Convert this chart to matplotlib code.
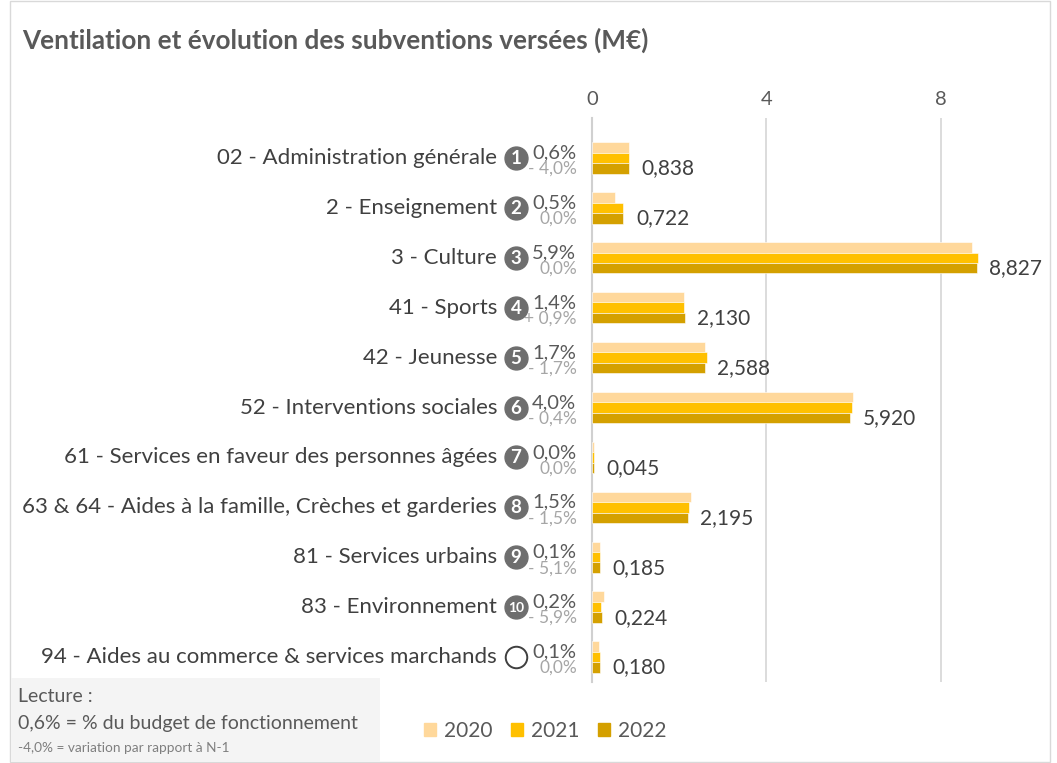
import matplotlib
matplotlib.use("Agg")
import matplotlib.pyplot as plt
import matplotlib.transforms as mtransforms
from matplotlib.patches import Rectangle
import numpy as np

plt.rcParams['font.family'] = ['Lato', 'DejaVu Sans']

title = "Ventilation et évolution des subventions versées (M€)"
categories = ["02 - Administration générale", "2 - Enseignement", "3 - Culture", "41 - Sports",
              "42 - Jeunesse", "52 - Interventions sociales", "61 - Services en faveur des personnes âgées",
              "63 & 64 - Aides à la famille, Crèches et garderies", "81 - Services urbains",
              "83 - Environnement", "94 - Aides au commerce & services marchands"]
years = ["2020", "2021", "2022"]
v2020 = [0.86, 0.535, 8.72, 2.10, 2.60, 5.98, 0.05, 2.28, 0.19, 0.28, 0.16]
v2021 = [0.86, 0.72, 8.85, 2.10, 2.63, 5.96, 0.045, 2.22, 0.19, 0.21, 0.18]
v2022 = [0.838, 0.722, 8.827, 2.130, 2.588, 5.920, 0.045, 2.195, 0.185, 0.224, 0.180]
share = ["0,6%", "0,5%", "5,9%", "1,4%", "1,7%", "4,0%", "0,0%", "1,5%", "0,1%", "0,2%", "0,1%"]
change = ["- 4,0%", "0,0%", "0,0%", "+ 0,9%", "- 1,7%", "- 0,4%", "0,0%", "- 1,5%", "- 5,1%", "- 5,9%", "0,0%"]
badges = ["1", "2", "3", "4", "5", "6", "7", "8", "9", "10", ""]
xticks = [0, 4, 8]

colors = ["#FFD89B", "#FFC000", "#D4A000"]
W, H = 1057, 763
fig = plt.figure(figsize=(W / 100, H / 100), dpi=100)

def fx(px):
    return px / W

def fy(py):
    return 1 - py / H

# border
fig.patches.append(Rectangle((fx(10), fy(762)), fx(1050) - fx(10), fy(1) - fy(762),
                             transform=fig.transFigure, fill=False, edgecolor="#D9D9D9", lw=1))
# lecture box
fig.patches.append(Rectangle((fx(11), fy(762)), fx(380) - fx(11), fy(678) - fy(762),
                             transform=fig.transFigure, facecolor="#F4F4F4", edgecolor="none"))

ax = fig.add_axes([fx(592), fy(682), fx(1028) - fx(592), fy(118) - fy(682)])
n = len(categories)
y = np.arange(n)
h = 0.21
for i, (vals, c) in enumerate(zip([v2020, v2021, v2022], colors)):
    ax.barh(y + (i - 1) * h, vals, height=h, color=c, edgecolor="white", linewidth=0.4, label=years[i], zorder=3)

ax.set_xlim(0, 10)
ax.set_ylim(n - 0.5, -0.5 - 15 / 49.9)
ax.set_xticks(xticks)
ax.set_xticklabels([str(t) for t in xticks])
ax.xaxis.tick_top()
ax.tick_params(axis='x', length=0, pad=7, labelsize=14.5, labelcolor="#595959")
ax.set_yticks([])
ax.grid(axis='x', color="#D9D9D9", lw=1.3, zorder=0)
for s in ["top", "right", "bottom"]:
    ax.spines[s].set_visible(False)
ax.spines["left"].set_color("#D0D0D0")
ax.spines["left"].set_linewidth(1.5)

bt = mtransforms.blended_transform_factory(fig.transFigure, ax.transData)
for i in range(n):
    ax.text(fx(497), y[i], categories[i], transform=bt, ha="right", va="center",
            fontsize=16, color="#404040")
    if badges[i]:
        ax.plot([fx(516)], [y[i]], transform=bt, marker="o", ms=16.5, color="#6E6E6E",
                clip_on=False, zorder=5)
        ax.text(fx(516), y[i] + 0.01, badges[i], transform=bt, ha="center", va="center",
                fontsize=13.5 if len(badges[i]) == 1 else 10, color="white", fontweight="bold", zorder=6)
    else:
        ax.plot([fx(516)], [y[i]], transform=bt, marker="o", ms=15.5, mfc="white", mec="#404040",
                mew=1.4, clip_on=False, zorder=5)
    ax.text(fx(576), y[i] - 0.1, share[i], transform=bt, ha="right", va="center",
            fontsize=14.5, color="#595959")
    ax.text(fx(577), y[i] + 0.22, change[i], transform=bt, ha="right", va="center",
            fontsize=12.5, color="#A6A6A6")
    ax.annotate(f"{v2022[i]:.3f}".replace(".", ","), xy=(v2022[i], y[i] + 0.21),
                xytext=(9, 0), textcoords="offset points", ha="left", va="center",
                fontsize=15, color="#404040", annotation_clip=False)

fig.text(fx(22), fy(40), title, ha="left", va="center", fontsize=18.8, fontweight="bold", color="#595959")

fig.text(fx(18), fy(697), "Lecture :", ha="left", va="center", fontsize=14, color="#595959")
fig.text(fx(18), fy(723), "0,6% = % du budget de fonctionnement", ha="left", va="center", fontsize=14, color="#595959")
fig.text(fx(18), fy(748), "-4,0% = variation par rapport à N-1", ha="left", va="center", fontsize=9.8, color="#7F7F7F")

handles = [Rectangle((0, 0), 1, 1, color=c) for c in colors]
fig.legend(handles, years, loc="center", bbox_to_anchor=(fx(545), fy(731)), ncol=3, frameon=False,
           fontsize=15, handlelength=0.6, handleheight=0.6, handletextpad=0.35, columnspacing=0.9,
           labelcolor="#595959")

fig.savefig("out.png", dpi=100)
